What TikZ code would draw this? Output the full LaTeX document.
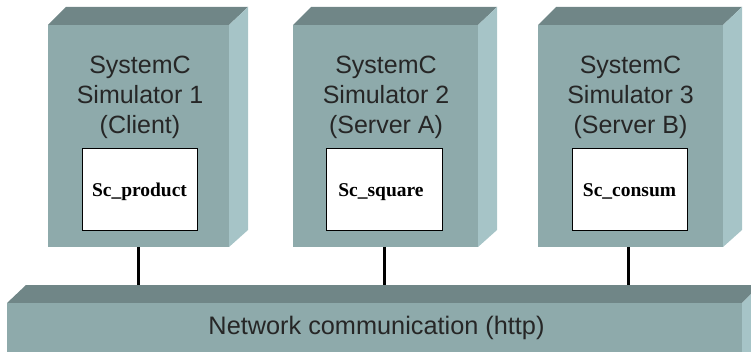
\documentclass[tikz,border=0pt]{standalone}
\usepackage{fontspec}
\setmainfont{Liberation Sans}
\newfontfamily\serifbf{Liberation Serif}
\definecolor{frontc}{RGB}{142,170,171}
\definecolor{topc}{RGB}{112,134,135}
\definecolor{sidec}{RGB}{166,196,199}
\tikzset{
  title/.style={anchor=north, inner sep=0pt, align=center, font=\fontsize{25}{30}\selectfont, text=black!85},
  modbox/.style={draw=black, line width=0.9pt, fill=white, minimum width=#1, minimum height=82pt, inner sep=0pt},
  modtext/.style={anchor=base, inner sep=0pt, font=\serifbf\bfseries\fontsize{19.5}{21}\selectfont},
  link/.style={line width=3pt, black}
}
\newcommand{\simbox}[5]{% name, xl, xr, ytop, ybot
  \fill[topc] (#2,#4) -- (#2+18,#4-18) -- (#3+19,#4-18) -- (#3,#4) -- cycle;
  \fill[sidec] (#3,#4) -- (#3+19,#4-18) -- (#3+19,#5-17) -- (#3,#5) -- cycle;
  \fill[frontc] (#2,#4) rectangle (#3,#5);
  \coordinate (#1) at ({(#2+#3)/2},#5);
}
\begin{document}
\begin{tikzpicture}[x=1pt,y=-1pt]
\useasboundingbox (0,0) rectangle (751,352);
% simulators
\simbox{s1}{48}{229}{25}{247}
\simbox{s2}{293}{478}{25}{247}
\simbox{s3}{538}{723}{25}{247}
\node[title] (t1) at (140,55.5) {SystemC\\Simulator 1\\(Client)};
\node[title] (t2) at (386,55.5) {SystemC\\Simulator 2\\(Server A)};
\node[title] (t3) at (630.5,55.5) {SystemC\\Simulator 3\\(Server B)};
\node[modbox=115pt] (m1) at (139.5,189) {};
\node[modbox=116pt] (m2) at (384,189) {};
\node[modbox=115pt] (m3) at (629.5,189) {};
\node[modtext] (m1t) at (139.5,197) {Sc\_product};
\node[modtext] (m2t) at (381,197) {Sc\_square};
\node[modtext] (m3t) at (629.5,197) {Sc\_consum};
% network bar
\fill[topc] (7,303) -- (26,285) -- (760,285) -- (742,303) -- cycle;
\fill[sidec] (742,303) -- (760,285) -- (760,360) -- (742,360) -- cycle;
\fill[frontc] (7,303) rectangle (742,360);
\node[anchor=base, inner sep=0pt, font=\fontsize{25.3}{30}\selectfont, text=black!85] (net) at (376.5,334) {Network communication (http)};
\coordinate (n1) at (138,285);
\coordinate (n2) at (384,285);
\coordinate (n3) at (628,285);
\coordinate (s1b) at (138,247);
\coordinate (s2b) at (384,247);
\coordinate (s3b) at (628,247);
\draw[link] (s1b) -- (n1);
\draw[link] (s2b) -- (n2);
\draw[link] (s3b) -- (n3);
\end{tikzpicture}
\end{document}
